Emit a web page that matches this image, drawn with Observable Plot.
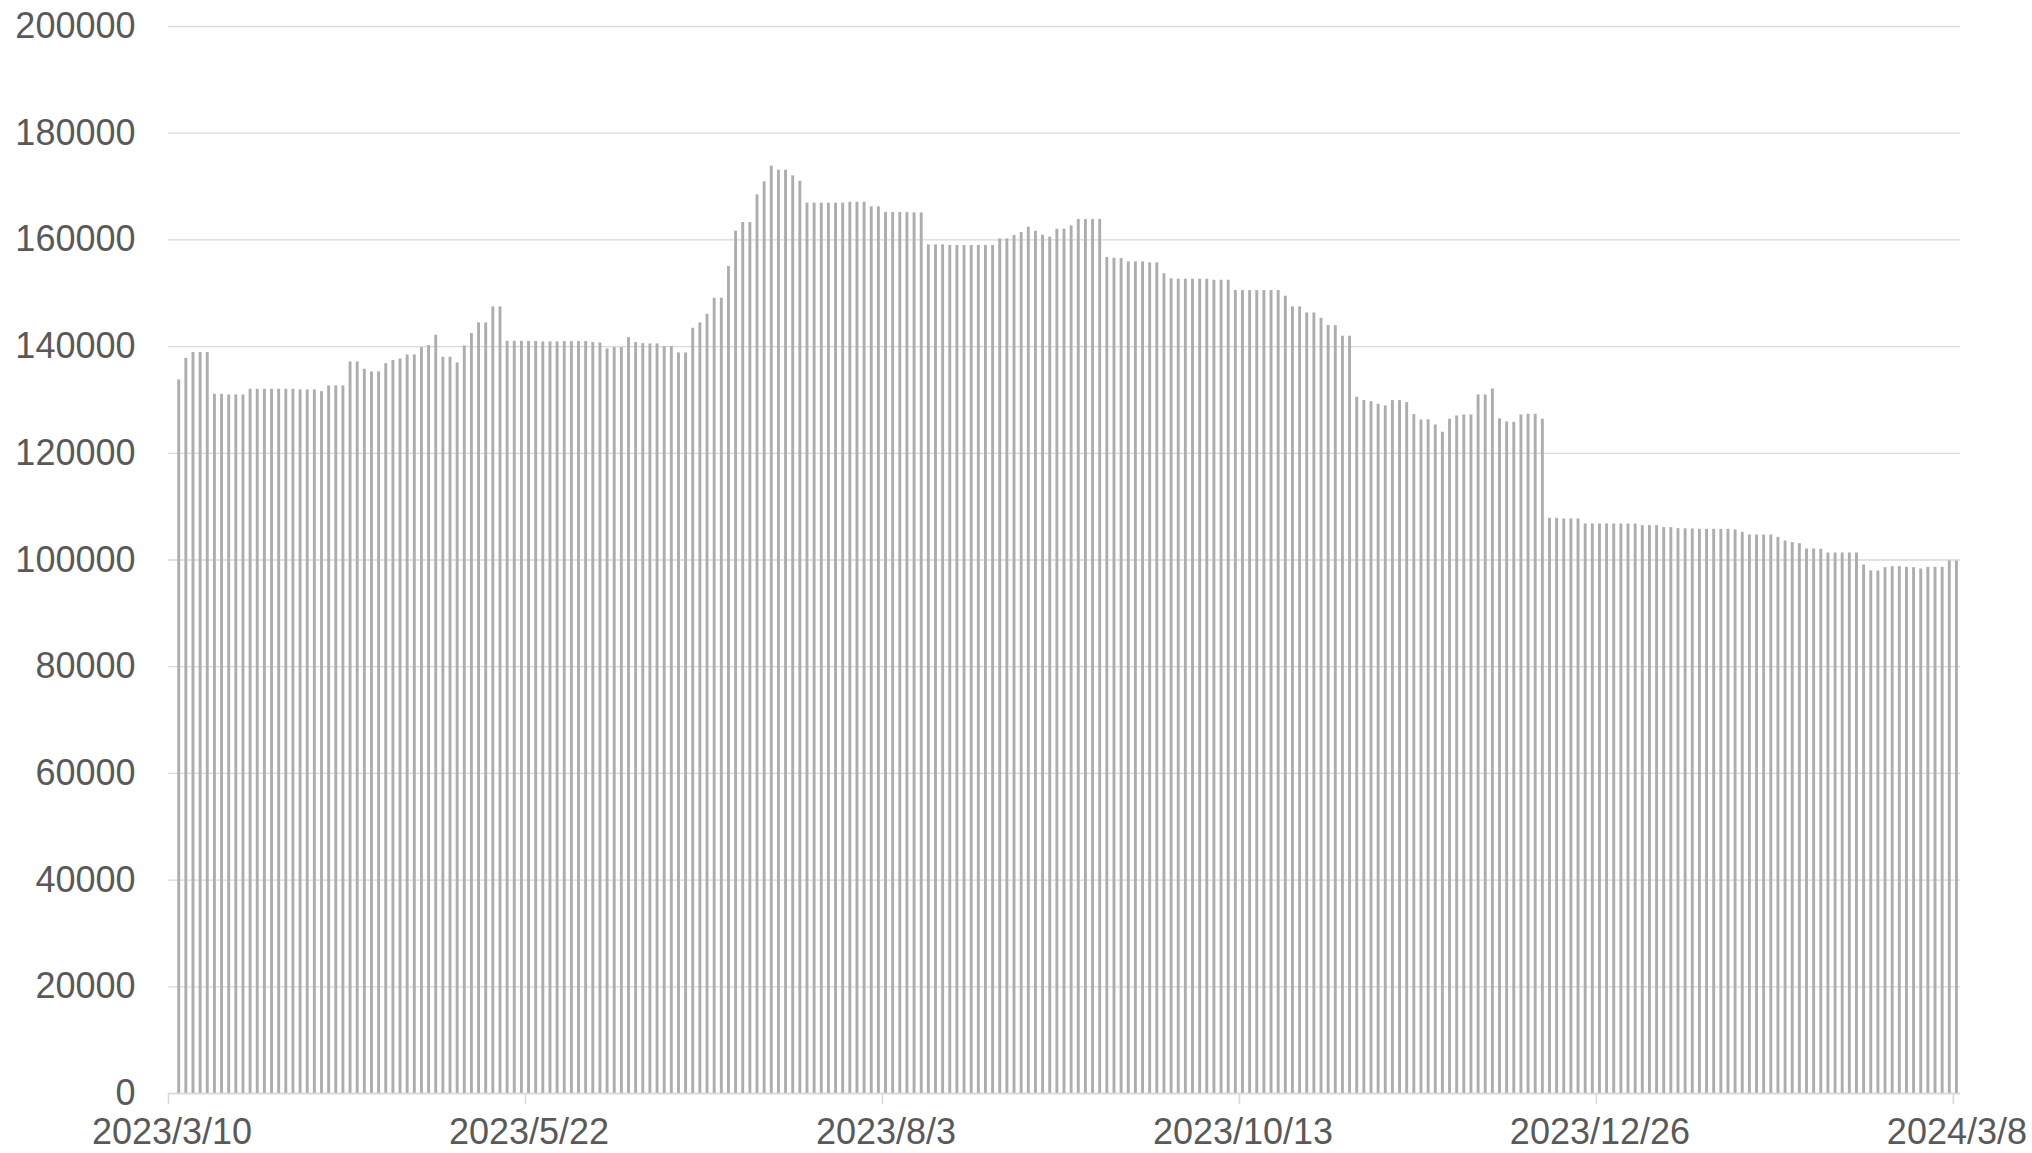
<!DOCTYPE html>
<html>
<head>
<meta charset="utf-8">
<script src="https://cdn.jsdelivr.net/npm/d3@7"></script>
<script src="https://cdn.jsdelivr.net/npm/@observablehq/plot@0.6"></script>
<style>
  html, body { margin: 0; padding: 0; background: #ffffff; }
  #chart svg { display: block; }
</style>
</head>
<body>
<div id="chart"></div>
<script>
// Trading-day categories (US market calendar), 2023/3/10 .. 2024/3/8
const dates = [
  "2023/3/10","2023/3/13","2023/3/14","2023/3/15","2023/3/16","2023/3/17","2023/3/20","2023/3/21","2023/3/22","2023/3/23","2023/3/24","2023/3/27","2023/3/28","2023/3/29","2023/3/30","2023/3/31",
  "2023/4/3","2023/4/4","2023/4/5","2023/4/6","2023/4/10","2023/4/11","2023/4/12","2023/4/13","2023/4/14","2023/4/17","2023/4/18","2023/4/19","2023/4/20","2023/4/21","2023/4/24","2023/4/25","2023/4/26","2023/4/27","2023/4/28",
  "2023/5/1","2023/5/2","2023/5/3","2023/5/4","2023/5/5","2023/5/8","2023/5/9","2023/5/10","2023/5/11","2023/5/12","2023/5/15","2023/5/16","2023/5/17","2023/5/18","2023/5/19","2023/5/22","2023/5/23","2023/5/24","2023/5/25","2023/5/26","2023/5/30","2023/5/31",
  "2023/6/1","2023/6/2","2023/6/5","2023/6/6","2023/6/7","2023/6/8","2023/6/9","2023/6/12","2023/6/13","2023/6/14","2023/6/15","2023/6/16","2023/6/20","2023/6/21","2023/6/22","2023/6/23","2023/6/26","2023/6/27","2023/6/28","2023/6/29","2023/6/30",
  "2023/7/3","2023/7/5","2023/7/6","2023/7/7","2023/7/10","2023/7/11","2023/7/12","2023/7/13","2023/7/14","2023/7/17","2023/7/18","2023/7/19","2023/7/20","2023/7/21","2023/7/24","2023/7/25","2023/7/26","2023/7/27","2023/7/28","2023/7/31",
  "2023/8/1","2023/8/2","2023/8/3","2023/8/4","2023/8/7","2023/8/8","2023/8/9","2023/8/10","2023/8/11","2023/8/14","2023/8/15","2023/8/16","2023/8/17","2023/8/18","2023/8/21","2023/8/22","2023/8/23","2023/8/24","2023/8/25","2023/8/28","2023/8/29","2023/8/30","2023/8/31",
  "2023/9/1","2023/9/5","2023/9/6","2023/9/7","2023/9/8","2023/9/11","2023/9/12","2023/9/13","2023/9/14","2023/9/15","2023/9/18","2023/9/19","2023/9/20","2023/9/21","2023/9/22","2023/9/25","2023/9/26","2023/9/27","2023/9/28","2023/9/29",
  "2023/10/2","2023/10/3","2023/10/4","2023/10/5","2023/10/6","2023/10/9","2023/10/10","2023/10/11","2023/10/12","2023/10/13","2023/10/16","2023/10/17","2023/10/18","2023/10/19","2023/10/20","2023/10/23","2023/10/24","2023/10/25","2023/10/26","2023/10/27","2023/10/30","2023/10/31",
  "2023/11/1","2023/11/2","2023/11/3","2023/11/6","2023/11/7","2023/11/8","2023/11/9","2023/11/10","2023/11/13","2023/11/14","2023/11/15","2023/11/16","2023/11/17","2023/11/20","2023/11/21","2023/11/22","2023/11/24","2023/11/27","2023/11/28","2023/11/29","2023/11/30",
  "2023/12/1","2023/12/4","2023/12/5","2023/12/6","2023/12/7","2023/12/8","2023/12/11","2023/12/12","2023/12/13","2023/12/14","2023/12/15","2023/12/18","2023/12/19","2023/12/20","2023/12/21","2023/12/22","2023/12/26","2023/12/27","2023/12/28","2023/12/29",
  "2024/1/2","2024/1/3","2024/1/4","2024/1/5","2024/1/8","2024/1/9","2024/1/10","2024/1/11","2024/1/12","2024/1/16","2024/1/17","2024/1/18","2024/1/19","2024/1/22","2024/1/23","2024/1/24","2024/1/25","2024/1/26","2024/1/29","2024/1/30","2024/1/31",
  "2024/2/1","2024/2/2","2024/2/5","2024/2/6","2024/2/7","2024/2/8","2024/2/9","2024/2/12","2024/2/13","2024/2/14","2024/2/15","2024/2/16","2024/2/20","2024/2/21","2024/2/22","2024/2/23","2024/2/26","2024/2/27","2024/2/28","2024/2/29",
  "2024/3/1","2024/3/4","2024/3/5","2024/3/6","2024/3/7","2024/3/8"
];

// Values (first category has no bar)
const values = [
  null, 133750, 137800, 138900, 138900, 138900, 131060, 131060, 130940, 130940,
  130940, 132000, 132000, 132000, 132000, 132000, 132000, 132000, 131880, 131880,
  131880, 131560, 132630, 132630, 132630, 137130, 137130, 135750, 135250, 135250,
  136800, 137400, 137690, 138440, 138440, 139810, 140190, 142130, 138000, 138000,
  136940, 140130, 142440, 144440, 144440, 147440, 147440, 141000, 141000, 141000,
  140940, 140940, 140880, 140880, 140880, 140940, 140940, 140940, 140940, 140750,
  140690, 139560, 139810, 139810, 141690, 140750, 140560, 140500, 140500, 140000,
  140000, 138810, 138810, 143440, 144440, 146060, 149060, 149060, 155000, 161630,
  163250, 163250, 168440, 170880, 173810, 173060, 173060, 172000, 171000, 166880,
  166880, 166880, 166880, 166880, 166880, 167060, 167060, 167060, 166190, 166190,
  165130, 165130, 165130, 165100, 165060, 165060, 159060, 159060, 159060, 158940,
  158940, 158940, 158940, 158940, 158940, 158940, 160190, 160190, 160810, 161380,
  162380, 161630, 160880, 160500, 162000, 162000, 162630, 163810, 163810, 163810,
  163810, 156690, 156560, 156500, 155880, 155880, 155880, 155690, 155690, 153650,
  152690, 152630, 152630, 152630, 152630, 152630, 152440, 152440, 152440, 150500,
  150500, 150500, 150500, 150500, 150500, 150500, 149440, 147440, 147440, 146310,
  146310, 145310, 143940, 143940, 141940, 141940, 130500, 129880, 129690, 129190,
  128880, 129880, 129880, 129500, 127250, 126250, 126280, 125310, 123940, 126380,
  127000, 127190, 127190, 130940, 130940, 132060, 126440, 125880, 125810, 127190,
  127310, 127310, 126380, 107810, 107810, 107690, 107690, 107690, 106750, 106750,
  106750, 106750, 106750, 106750, 106750, 106750, 106440, 106440, 106440, 106060,
  106060, 105880, 105850, 105810, 105750, 105750, 105750, 105750, 105750, 105630,
  105190, 104690, 104690, 104690, 104690, 104250, 103560, 103250, 103060, 102060,
  102060, 102000, 101310, 101310, 101310, 101310, 101310, 99060, 97940, 97940,
  98560, 98750, 98750, 98630, 98560, 98310, 98630, 98630, 98630, 99810, 99810
];

const yTicks = [0, 20000, 40000, 60000, 80000, 100000, 120000, 140000, 160000, 180000, 200000];
const xTickLabels = ["2023/3/10", "2023/5/22", "2023/8/3", "2023/10/13", "2023/12/26", "2024/3/8"];

const W = 2032, H = 1153;
const mL = 168, mR = 72, mT = 26, mB = 60;
const step = (W - mL - mR) / dates.length;
const barW = 2.9;
const inset = (step - barW) / 2;

const data = dates.map((d, i) => ({date: d, value: values[i]})).filter(d => d.value != null);

const chart = Plot.plot({
  width: W,
  height: H,
  marginLeft: mL,
  marginRight: mR,
  marginTop: mT,
  marginBottom: mB,
  style: {fontFamily: "'Liberation Sans', Arial, sans-serif", background: "#ffffff"},
  x: {type: "band", domain: dates, padding: 0, label: null},
  y: {domain: [0, 200000], label: null},
  marks: [
    Plot.gridY(yTicks, {stroke: "#d9d9d9", strokeOpacity: 1, strokeWidth: 1.3}),
    Plot.barY(data, {x: "date", y: "value", fill: "#adadad", insetLeft: inset, insetRight: inset}),
    Plot.ruleY([0], {stroke: "#d9d9d9", strokeWidth: 1.6}),
    Plot.axisX(xTickLabels, {tickSize: 11, tickFormat: () => "", dx: -step / 2, stroke: "#d9d9d9", strokeWidth: 1.6, strokeOpacity: 1}),
    Plot.axisX(xTickLabels, {tickSize: 0, tickPadding: 25, fontSize: 36, fill: "#595959"}),
    Plot.axisY(yTicks, {tickSize: 0, tickPadding: 33, fontSize: 36, fill: "#595959", tickFormat: d => String(d)})
  ]
});

document.getElementById("chart").appendChild(chart);
</script>
</body>
</html>
